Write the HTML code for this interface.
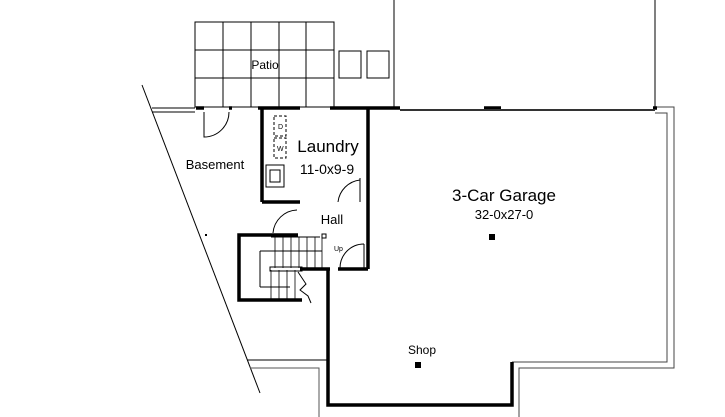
<!DOCTYPE html><html><head><style>body{margin:0;background:#fff}svg{display:block}text{font-family:"Liberation Sans",sans-serif;fill:#000}</style></head><body>
<svg width="725" height="417" viewBox="0 0 725 417" xmlns="http://www.w3.org/2000/svg">
<g fill="none" stroke="#000" stroke-width="1">
<rect x="195" y="22" width="139" height="85"/>
<line x1="223" y1="22" x2="223" y2="107"/><line x1="251" y1="22" x2="251" y2="107"/><line x1="279" y1="22" x2="279" y2="107"/><line x1="306" y1="22" x2="306" y2="107"/>
<line x1="195" y1="50" x2="334" y2="50"/><line x1="195" y1="78" x2="334" y2="78"/>
<rect x="339" y="51" width="22" height="27"/><rect x="367" y="51" width="22" height="27"/>
<line x1="394" y1="0" x2="394" y2="108"/><line x1="655" y1="0" x2="655" y2="108"/>
<line x1="142" y1="85" x2="260" y2="393"/>
<line x1="152" y1="108" x2="195" y2="108"/><line x1="152" y1="112" x2="195" y2="112"/>
<line x1="247" y1="360" x2="327" y2="360"/>
<polyline points="250,368 319,368 319,417" stroke="#555"/>
<polyline points="655,113 667,113 667,362 512,362" stroke="#444"/>
<polyline points="655,107 674,107 674,368 519,368 519,417" stroke="#444"/>
<path d="M204,112 L204,137 A25,25 0 0 0 229,112"/>
<path d="M338,202 A25,25 0 0 1 360,180"/><line x1="360" y1="178" x2="360" y2="202"/>
<path d="M273,233 A25,25 0 0 1 297,210"/>
<path d="M340,268 A24,24 0 0 1 364,244"/><line x1="364" y1="244" x2="364" y2="268"/>
<rect x="274" y="116" width="12" height="20" stroke-dasharray="3,2"/>
<rect x="274" y="138" width="12" height="20" stroke-dasharray="3,2"/>
<rect x="266" y="165" width="18" height="22"/><rect x="270" y="170" width="10" height="12"/>
<line x1="260" y1="251" x2="260" y2="287"/><line x1="260" y1="251" x2="322" y2="251"/><line x1="260" y1="287" x2="290" y2="287"/>
<line x1="271" y1="237" x2="320" y2="237"/>
<g stroke-width="0.8"><line x1="275" y1="237" x2="275" y2="268"/><line x1="283" y1="237" x2="283" y2="268"/><line x1="291" y1="237" x2="291" y2="268"/><line x1="299" y1="237" x2="299" y2="268"/><line x1="307" y1="237" x2="307" y2="268"/><line x1="315" y1="237" x2="315" y2="268"/><line x1="322" y1="237" x2="322" y2="268"/>
<line x1="271" y1="270" x2="271" y2="300"/><line x1="279" y1="270" x2="279" y2="300"/><line x1="287" y1="270" x2="287" y2="300"/><line x1="295" y1="270" x2="295" y2="300"/></g>
<rect x="270" y="267" width="32" height="4"/>
<path d="M298,272 L306,284 L300,290 L308,296 L311,303"/>
<rect x="322" y="234" width="4" height="4"/>
</g>
<g fill="none" stroke="#000" stroke-width="3.5">
<line x1="196" y1="108" x2="204" y2="108"/><line x1="229" y1="108" x2="232" y2="108"/><line x1="258" y1="108" x2="300" y2="108"/><line x1="330" y1="108" x2="400" y2="108"/>
<line x1="262" y1="108" x2="262" y2="202"/><line x1="262" y1="202" x2="300" y2="202"/>
<line x1="368" y1="108" x2="368" y2="269"/><line x1="338" y1="269" x2="368" y2="269"/>
<polyline points="298,235 239,235 239,300 302,300"/>
<line x1="300" y1="269" x2="330" y2="269"/>
<polyline points="328,269 328,405 512,405 512,362"/>
<line x1="484" y1="108" x2="501" y2="108"/><line x1="653" y1="108" x2="657" y2="108"/>
</g>
<line x1="400" y1="110" x2="655" y2="110" stroke="#333" stroke-width="2"/>
<rect x="489" y="234" width="6" height="6"/><rect x="415" y="362" width="6" height="6"/>
<rect x="205" y="234" width="2" height="2"/>
<text x="265" y="69" font-size="12" text-anchor="middle">Patio</text>
<text x="215" y="169" font-size="13" text-anchor="middle">Basement</text>
<text x="328" y="152" font-size="17" text-anchor="middle">Laundry</text>
<text x="327" y="174" font-size="14" text-anchor="middle">11-0x9-9</text>
<text x="332" y="224" font-size="13" text-anchor="middle">Hall</text>
<text x="334" y="251" font-size="7">Up</text>
<text x="504" y="201" font-size="17" text-anchor="middle">3-Car Garage</text>
<text x="504" y="219" font-size="13" text-anchor="middle">32-0x27-0</text>
<text x="422" y="354" font-size="12" text-anchor="middle">Shop</text>
<text x="278" y="129" font-size="7">D</text><text x="277" y="151" font-size="7">W</text>
</svg></body></html>
